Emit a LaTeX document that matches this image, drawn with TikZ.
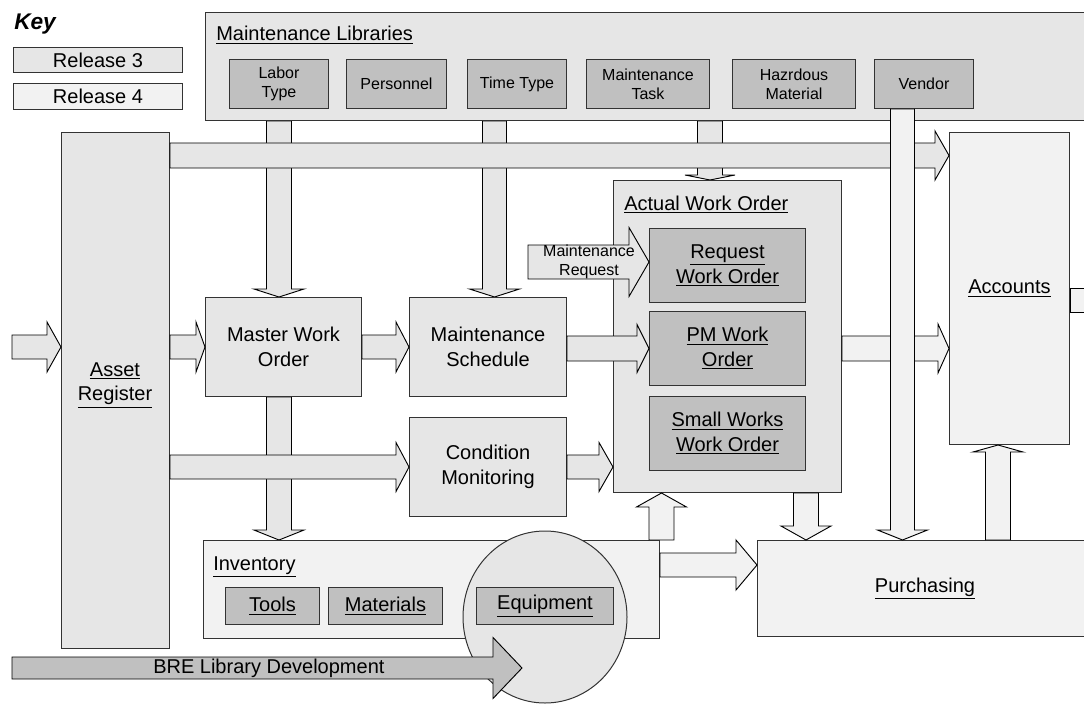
\documentclass[tikz,border=0pt]{standalone}
\usepackage{fontspec}
\setmainfont{Liberation Sans}
\usetikzlibrary{calc,shapes.geometric}
\pgfdeclarelayer{bg}
\pgfsetlayers{bg,main}
\definecolor{rthree}{HTML}{E6E6E6}
\definecolor{rfour}{HTML}{F2F2F2}
\definecolor{innerc}{HTML}{C0C0C0}
\definecolor{edge}{HTML}{333333}
\tikzset{
  px/.style 2 args={minimum width=#1*0.75pt, minimum height=#2*0.75pt, anchor=north west, inner sep=0pt},
  boxthree/.style={draw=edge, line width=0.75pt, fill=rthree},
  boxfour/.style={draw=edge, line width=0.75pt, fill=rfour},
  boxin/.style={draw=edge, line width=0.75pt, fill=innerc},
  blk/.style={draw=black, line width=0.7pt, line join=miter},
  lbl/.style={font=\fontsize{15}{18.5}\selectfont, align=center},
  smalltxt/.style={font=\fontsize{12}{14}\selectfont, align=center},
  ttl/.style={font=\fontsize{15}{18.5}\selectfont, anchor=base west, inner sep=0pt},
}
% right arrow: fill, from, tip, shaft half, head half, head length (px)
\newcommand{\rarr}[6]{%
  \path[blk, fill=#1] let \p1=(#2), \p2=(#3) in
   (\x1,{\y2+#4*0.75pt}) -- ({\x2-#6*0.75pt},{\y2+#4*0.75pt}) -- ({\x2-#6*0.75pt},{\y2+#5*0.75pt})
   -- (\x2,\y2) -- ({\x2-#6*0.75pt},{\y2-#5*0.75pt}) -- ({\x2-#6*0.75pt},{\y2-#4*0.75pt})
   -- (\x1,{\y2-#4*0.75pt}) -- cycle;}
% down arrow
\newcommand{\darr}[6]{%
  \path[blk, fill=#1] let \p1=(#2), \p2=(#3) in
   ({\x2-#4*0.75pt},\y1) -- ({\x2-#4*0.75pt},{\y2+#6*0.75pt}) -- ({\x2-#5*0.75pt},{\y2+#6*0.75pt})
   -- (\x2,\y2) -- ({\x2+#5*0.75pt},{\y2+#6*0.75pt}) -- ({\x2+#4*0.75pt},{\y2+#6*0.75pt})
   -- ({\x2+#4*0.75pt},\y1) -- cycle;}
% up arrow
\newcommand{\uarr}[6]{%
  \path[blk, fill=#1] let \p1=(#2), \p2=(#3) in
   ({\x2-#4*0.75pt},\y1) -- ({\x2-#4*0.75pt},{\y2-#6*0.75pt}) -- ({\x2-#5*0.75pt},{\y2-#6*0.75pt})
   -- (\x2,\y2) -- ({\x2+#5*0.75pt},{\y2-#6*0.75pt}) -- ({\x2+#4*0.75pt},{\y2-#6*0.75pt})
   -- ({\x2+#4*0.75pt},\y1) -- cycle;}
\begin{document}
\begin{tikzpicture}[x=0.75pt,y=-0.75pt]
\useasboundingbox (0,0) rectangle (1084,706);
\clip (0,0) rectangle (1084,706);

% key
\node[font=\fontsize{17}{20}\selectfont\bfseries\itshape, anchor=base west, inner sep=0pt] (key) at (14,30) {Key};
\node[boxthree, px={169}{25}, lbl] (rel3) at (13,47) {Release 3};
\node[boxfour, px={169}{26}, lbl] (rel4) at (13,83) {Release 4};

% maintenance libraries
\node[boxthree, px={885}{108}] (libs) at (205,12) {};
\node[ttl] (libsttl) at (216,41) {\underline{Maintenance Libraries}};
\node[boxin, px={99}{49}, smalltxt] (labor) at (229,59) {Labor\\Type};
\node[boxin, px={100}{49}, smalltxt] (pers) at (346,59) {Personnel};
\node[boxin, px={99}{49}, smalltxt] (ttype) at (467,59) {Time Type};
\node[boxin, px={123}{49}, smalltxt] (mtask) at (586,59) {Maintenance\\Task};
\node[boxin, px={123}{49}, smalltxt] (haz) at (732,59) {Hazrdous\\Material};
\node[boxin, px={99}{49}, smalltxt] (vendor) at (874,59) {Vendor};

% main boxes
\node[boxthree, px={108}{516}] (ar) at (61,132) {};
\node[lbl] (artxt) at (115,385) {\underline{Asset}\\\underline{Register}};
\node[boxfour, px={120}{312}, lbl] (acc) at (949,132) {\underline{Accounts}};
\node[boxthree, px={156}{99}, lbl] (mwo) at (205,297) {Master Work\\Order};
\node[boxthree, px={157}{99}, lbl] (ms) at (409,297) {Maintenance\\Schedule};
\node[boxthree, px={157}{99}, lbl] (cm) at (409,417) {Condition\\Monitoring};
\node[boxthree, px={228}{312}] (awo) at (613,180) {};
\node[ttl] (awottl) at (624,210) {\underline{Actual Work Order}};
\node[boxin, px={156}{74}, lbl] (rwo) at (649,228) {\underline{Request}\\\underline{Work Order}};
\node[boxin, px={156}{74}, lbl] (pm) at (649,311) {\underline{PM Work}\\\underline{Order}};
\node[boxin, px={156}{74}, lbl] (sw) at (649,396) {\underline{Small Works}\\\underline{Work Order}};
\node[boxfour, px={456}{98}] (inv) at (203,540) {};
\node[ttl] (invttl) at (213,570) {\underline{Inventory}};
\node[boxthree, ellipse, minimum width=164*0.75pt, minimum height=172*0.75pt, inner sep=0pt] (circ) at (545,617) {};
\node[boxin, px={94}{37}, lbl] (tools) at (225,587) {\underline{Tools}};
\node[boxin, px={114}{37}, lbl] (mat) at (328,587) {\underline{Materials}};
\node[boxin, px={137}{37}, lbl] (equip) at (476,587) {\underline{Equipment}};
\node[boxfour, px={335}{96}, lbl] (pur) at (757,540) {\underline{Purchasing}};

% arrows under boxes
\begin{pgfonlayer}{bg}
\darr{rthree}{libs.south}{labor.south |- mwo.north}{12.5}{25}{8}
\darr{rthree}{libs.south}{$(ms.north)+(6.5,0)$}{12}{25}{8}
\darr{rthree}{libs.south}{mtask.south east |- awo.north}{12.5}{25}{5}
\darr{rthree}{mwo.south}{labor.south |- inv.north}{12.5}{25}{10}
\end{pgfonlayer}

% horizontal arrows
\rarr{rthree}{ar.east}{$(acc.north west)+(0,23.5)$}{12.5}{24.5}{14}
\rarr{rthree}{ar.east}{mwo.west}{12}{25}{9}
\rarr{rthree}{mwo.east}{ms.west}{12}{25}{13}
\rarr{rthree}{ms.east}{pm.west}{12.5}{24}{12}
\rarr{rthree}{ar.east}{cm.west}{12}{24.5}{13}
\rarr{rthree}{cm.east}{awo.west |- cm.west}{12}{24.5}{14}
\rarr{rfour}{awo.east}{acc.west |- pm.east}{12.5}{24.5}{11}
\coordinate (inp) at (12,347);
\rarr{rthree}{inp}{ar.west |- inp}{12}{25}{14}
\rarr{rfour}{$(inv.north east)+(0,25)$}{$(pur.north west)+(0,25)$}{12}{25}{21}
\coordinate (mreq) at (528,262);
\rarr{rthree}{mreq}{rwo.west |- mreq}{17}{34.5}{20}
\node[smalltxt] (mreqtxt) at (589,262) {Maintenance\\Request};

% vertical arrows at bottom / right
\uarr{rfour}{inv.north}{$(awo.south west)+(48.5,0)$}{12.5}{25}{14}
\darr{rfour}{awo.south}{sw.south east |- pur.north}{12.5}{25}{14}
\uarr{rfour}{pur.north}{$(acc.south)+(-11.5,0)$}{12.5}{25}{7}
\darr{rfour}{vendor.south}{$(vendor.south |- pur.north)+(-21.5,0)$}{12}{25}{10}
\path[blk, fill=rfour] (acc.east) rectangle ($(acc.east)+(30,24)$);

% BRE arrow
\coordinate (brestart) at (12,668);
\coordinate (bretip) at (522,668);
\rarr{innerc}{brestart}{bretip}{11}{30.5}{29}
\node[lbl, anchor=west, inner sep=0pt] (bretxt) at (153,668) {BRE Library Development};
\end{tikzpicture}
\end{document}
